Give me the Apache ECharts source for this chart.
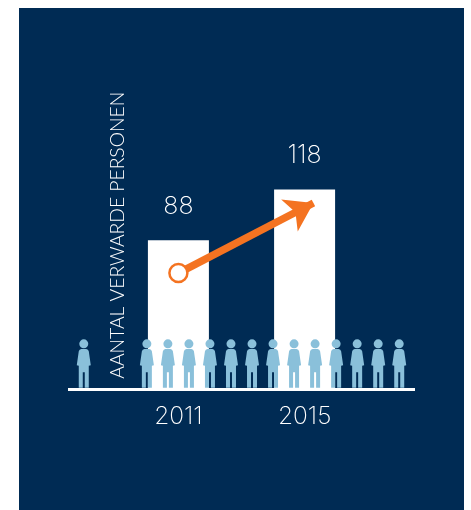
<!DOCTYPE html>
<html><head><meta charset="utf-8">
<script src="https://cdn.jsdelivr.net/npm/echarts@6/dist/echarts.min.js"></script>
<style>html,body{margin:0;padding:0;background:#fff}#c{width:471px;height:510px}</style></head>
<body><div id="c"></div>
<script>
const years = ['2008','2009','2010','2011','2012','2013','2014','2015','2016','2017','2018'];
const shownYears = ['2011','2015'];
const barValues = [null,null,null,88,null,null,null,118,null,null,null];
const personSlots = [0,3,4,5,6,7,8,9,10,11,12,13,14,15];
const personLevel = 15.3;
const arrowFrom = [4.5, 68.7];
const arrowTo = [10.92, 110];
const yTitle = 'AANTAL VERWARDE PERSONEN';

const NAVY='#002b54', WHITE='#ffffff', BLUE='#8ac0da', ORANGE='#f47321';
const FONT='Lato', NUMFONT='Inter';
const PERSON='path://M7 0a4.5 4.5 0 1 1 0 9a4.5 4.5 0 1 1 0-9ZM4.5 9.6H9.5Q11.5 9.8 12 12L14 26L12 26.5V48.4H8V33H6V48.4H2V26.5L0 26L2 12Q2.5 9.8 4.5 9.6Z';

const chart = echarts.init(document.getElementById('c'), null, {renderer:'canvas'});
chart.setOption({
  animation:false,
  backgroundColor:WHITE,
  graphic:[{type:'rect',z:-10,shape:{x:19,y:8,width:445,height:502},style:{fill:NAVY}}],
  grid:{left:68,top:81,width:347,height:308.5},
  xAxis:[
    {type:'category',data:years,
     axisLine:{show:true,onZero:false,lineStyle:{color:WHITE,width:3,cap:'butt'}},
     axisTick:{show:false},splitLine:{show:false},
     axisLabel:{interval:0,margin:15,color:WHITE,fontFamily:NUMFONT,fontWeight:200,fontSize:24.5,
       formatter:v=>shownYears.includes(v)?v:''}},
    {type:'value',min:-0.75,max:15.75,show:false,splitLine:{show:false}}
  ],
  yAxis:{type:'value',min:0,max:182,
    axisLine:{show:false},axisTick:{show:false},axisLabel:{show:false},splitLine:{show:false},
    name:yTitle,nameLocation:'middle',nameRotate:90,nameGap:-59,
    nameTextStyle:{color:WHITE,fontFamily:FONT,fontWeight:300,fontSize:19.3}},
  series:[
    {type:'bar',data:barValues,barWidth:61,itemStyle:{color:WHITE},z:1,
     label:{show:true,position:'top',distance:21,color:WHITE,fontFamily:NUMFONT,fontWeight:200,fontSize:25}},
    {type:'scatter',xAxisIndex:1,z:3,symbol:PERSON,symbolSize:[14,48.4],
     itemStyle:{color:BLUE,opacity:1},
     data:personSlots.map(s=>[s,personLevel])},
    {type:'scatter',xAxisIndex:1,z:5,symbol:'circle',symbolSize:18,
     itemStyle:{color:WHITE,borderColor:ORANGE,borderWidth:2.5,opacity:1},
     data:[arrowFrom],
     markLine:{silent:true,z:4,animation:false,symbol:['none','arrow'],symbolSize:27,
       label:{show:false},lineStyle:{color:ORANGE,width:7.5,type:'solid',opacity:1},
       itemStyle:{color:ORANGE},
       data:[[{coord:arrowFrom},{coord:arrowTo}]]}}
  ]
});
</script></body></html>
